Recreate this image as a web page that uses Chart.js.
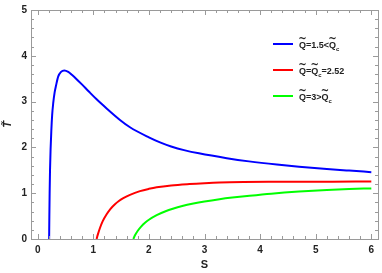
<!DOCTYPE html>
<html>
<head>
<meta charset="utf-8">
<script src="https://cdn.jsdelivr.net/npm/chart.js@4.4.1/dist/chart.umd.min.js"></script>
<style>
  html, body { margin: 0; padding: 0; background: #fff; }
  #wrap { width: 382px; height: 273px; position: relative; }
</style>
</head>
<body>
<div id="wrap"><canvas id="c" width="382" height="273"></canvas></div>
<script>
// ---- data ----
const blueS  = [0.206,0.21,0.215,0.222,0.232,0.245,0.26,0.28,0.305,0.33,0.37,0.42,0.48,0.55,0.62,0.7,0.8,0.92,1.06,1.25,1.48,1.66,2.0,2.2,2.4,2.65,2.9,3.4,3.8,4.3,4.7,5.2,5.6,6.0];
const blueT  = [0,0.5,1.0,1.5,1.95,2.35,2.7,2.97,3.2,3.35,3.55,3.65,3.68,3.65,3.58,3.49,3.37,3.22,3.05,2.84,2.60,2.44,2.22,2.11,2.02,1.935,1.87,1.765,1.695,1.625,1.578,1.528,1.493,1.46];
const redS   = [1.06,1.08,1.12,1.17,1.24,1.31,1.39,1.46,1.54,1.66,1.84,2.0,2.14,2.4,2.73,3.0,3.27,3.7,4.2,4.7,5.3,6.0];
const redT   = [0,0.09,0.24,0.39,0.54,0.66,0.76,0.83,0.895,0.965,1.045,1.095,1.13,1.17,1.20,1.218,1.232,1.243,1.248,1.25,1.252,1.255];
const greenS = [1.72,1.75,1.8,1.86,1.93,2.0,2.14,2.3,2.43,2.6,2.8,3.0,3.27,3.5,3.81,4.2,4.7,5.2,5.6,6.0];
const greenT = [0,0.08,0.18,0.27,0.355,0.42,0.52,0.605,0.66,0.72,0.775,0.82,0.87,0.905,0.945,0.99,1.035,1.07,1.09,1.105];
const xTicks = [0,1,2,3,4,5,6];
const yTicks = [0,1,2,3,4,5];
const legendItems = [
  { color: '#0000ff', parts: ['Q~', '=1.5<', 'Q~', '_c'] },
  { color: '#ff0000', parts: ['Q~', '=', 'Q~', '_c', '=2.52'] },
  { color: '#00ff00', parts: ['Q~', '=3>', 'Q~', '_c'] }
];

const toPts = (xs, ys) => xs.map((x, i) => ({ x: x, y: ys[i] }));
const FONT = '"Liberation Sans", Arial, sans-serif';
const FRAME = '#9a9a9a';

const framePlugin = {
  id: 'frame',
  afterDraw(chart) {
    const ctx = chart.ctx, a = chart.chartArea;
    const xs = chart.scales.x, ys = chart.scales.y;
    ctx.save();
    ctx.strokeStyle = FRAME;
    ctx.lineWidth = 1;
    ctx.strokeRect(Math.round(a.left) + 0.5, Math.round(a.top) + 0.5,
                   Math.round(a.right - a.left), Math.round(a.bottom - a.top));
    ctx.beginPath();
    for (let i = 0; i <= 30; i++) {
      const v = i * 0.2;
      const px = Math.round(xs.getPixelForValue(v)) + 0.5;
      const len = (i % 5 === 0) ? 5 : 3;
      ctx.moveTo(px, a.bottom); ctx.lineTo(px, a.bottom - len);
      ctx.moveTo(px, a.top); ctx.lineTo(px, a.top + len);
    }
    for (let i = 0; i <= 25; i++) {
      const v = i * 0.2;
      const py = Math.round(ys.getPixelForValue(v)) + 0.5;
      const len = (i % 5 === 0) ? 5 : 3;
      ctx.moveTo(a.left, py); ctx.lineTo(a.left + len, py);
      ctx.moveTo(a.right, py); ctx.lineTo(a.right - len, py);
    }
    ctx.stroke();

    // legend
    let y0 = 44;
    legendItems.forEach((it) => {
      ctx.strokeStyle = it.color;
      ctx.lineWidth = 2;
      ctx.beginPath(); ctx.moveTo(273, y0); ctx.lineTo(293, y0); ctx.stroke();
      let x = 299;
      ctx.fillStyle = '#222';
      ctx.textBaseline = 'middle';
      ctx.textAlign = 'left';
      it.parts.forEach((p) => {
        if (p === 'Q~') {
          ctx.font = 'bold 9px ' + FONT;
          ctx.fillText('Q', x, y0 + 2);
          const w = ctx.measureText('Q').width;
          ctx.font = 'bold 10px "DejaVu Sans", sans-serif';
          const tw = ctx.measureText('~').width;
          ctx.fillText('~', x + (w - tw) / 2, y0 - 5);
          x += w;
        } else if (p === '_c') {
          ctx.font = 'bold 6px ' + FONT;
          ctx.fillText('c', x, y0 + 5);
          x += ctx.measureText('c').width;
        } else {
          ctx.font = 'bold 9px ' + FONT;
          ctx.fillText(p, x, y0 + 2);
          x += ctx.measureText(p).width;
        }
      });
      y0 += 26;
    });
    ctx.restore();
  }
};

new Chart(document.getElementById('c'), {
  type: 'line',
  data: {
    datasets: [
      { data: toPts(blueS, blueT), borderColor: '#0000ff', borderWidth: 2, pointRadius: 0, cubicInterpolationMode: 'monotone', fill: false },
      { data: toPts(redS, redT), borderColor: '#ff0000', borderWidth: 2, pointRadius: 0, cubicInterpolationMode: 'monotone', fill: false },
      { data: toPts(greenS, greenT), borderColor: '#00ff00', borderWidth: 2, pointRadius: 0, cubicInterpolationMode: 'monotone', fill: false }
    ]
  },
  options: {
    responsive: false,
    animation: false,
    events: [],
    layout: { padding: { top: 5, right: 4, left: 0, bottom: 0 } },
    plugins: { legend: { display: false }, tooltip: { enabled: false } },
    scales: {
      x: {
        type: 'linear',
        min: -0.12, max: 6.12,
        afterBuildTicks: (s) => { s.ticks = xTicks.map(v => ({ value: v })); },
        afterFit: (s) => { s.height = 34; },
        grid: { display: false, drawTicks: false },
        border: { display: false },
        ticks: { color: '#222', padding: 5, maxRotation: 0, font: { family: FONT, size: 10, weight: 'bold' } },
        title: { display: true, text: 'S', color: '#222', padding: { top: 0, bottom: 1 }, font: { family: FONT, size: 11, weight: 'bold' } }
      },
      y: {
        type: 'linear',
        min: 0, max: 5,
        afterBuildTicks: (s) => { s.ticks = yTicks.map(v => ({ value: v })); },
        afterFit: (s) => { s.width = 31; },
        grid: { display: false, drawTicks: false },
        border: { display: false },
        ticks: { color: '#222', padding: 4, font: { family: FONT, size: 10, weight: 'bold' } },
        title: { display: true, text: 'T\u0303', color: '#222', padding: { top: 1, bottom: 0 }, font: { family: FONT, size: 11, style: 'italic', weight: 'bold' } }
      }
    }
  },
  plugins: [framePlugin]
});
</script>
</body>
</html>
